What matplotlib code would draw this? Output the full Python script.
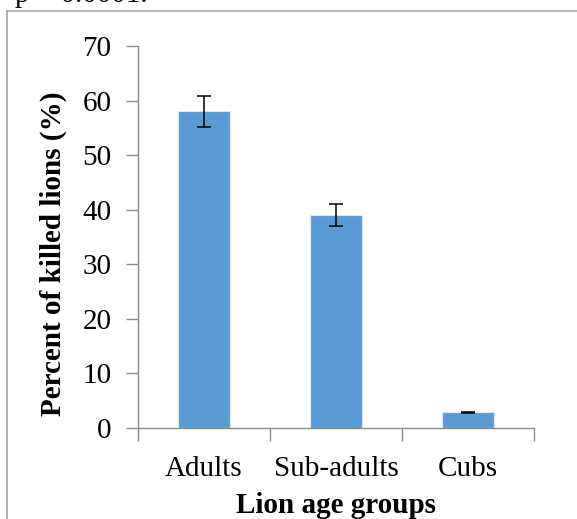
# bar chart of killed lions by age group, with error bars
import matplotlib.pyplot as plt
from matplotlib.lines import Line2D

groups = ['Adults', 'Sub-adults', 'Cubs']
percent = [58, 39, 2.9]
err = [2.9, 2.0, 0.1]

plt.rcParams['font.family'] = ['Liberation Serif', 'DejaVu Serif']
grey = '#8c8c8c'

fig = plt.figure(figsize=(5.77, 5.19), dpi=100)
ax = fig.add_axes([138 / 577, 1 - 428 / 519, 396 / 577, 382 / 519])

x = range(len(groups))
ax.bar(x, percent, width=0.4, color='#5b9bd5', edgecolor='#dbe8f5', linewidth=0.8,
       yerr=err, capsize=5, error_kw={'elinewidth': 1.1, 'capthick': 1.1, 'ecolor': 'black'})

ax.set_xlim(-0.5, 2.5)
ax.set_ylim(0, 70)
ax.set_yticks(range(0, 71, 10))
ax.set_xticks([-0.5, 0.5, 1.5, 2.5])
ax.set_xticklabels([])
ax.set_xticks(list(x), minor=True)
ax.set_xticklabels(groups, minor=True)

ax.tick_params(axis='x', which='major', length=9, width=1, color=grey, direction='out')
ax.tick_params(axis='x', which='minor', length=0, pad=20, labelsize=21)
ax.tick_params(axis='y', length=9, width=1, color=grey, direction='out', pad=10, labelsize=21)

for s in ['top', 'right']:
    ax.spines[s].set_visible(False)
for s in ['left', 'bottom']:
    ax.spines[s].set_color(grey)
    ax.spines[s].set_linewidth(1)

ax.set_ylabel('Percent of killed lions (%)', fontsize=21, fontweight='bold')
ax.yaxis.set_label_coords(-0.18, 0.455)
ax.set_xlabel('Lion age groups', fontsize=21, fontweight='bold', labelpad=7.5)

# chart area border
fig.add_artist(Line2D([7 / 577, 7 / 577], [0, 1 - 11 / 519], color='#a6a6a6', lw=1.2))
fig.add_artist(Line2D([7 / 577, 1], [1 - 11 / 519, 1 - 11 / 519], color='#a6a6a6', lw=1.2))

fig.text(15 / 577, 1 - 2.5 / 519, 'p < 0.0001.', fontsize=21, va='baseline', ha='left')

fig.savefig('out.png', dpi=100)
